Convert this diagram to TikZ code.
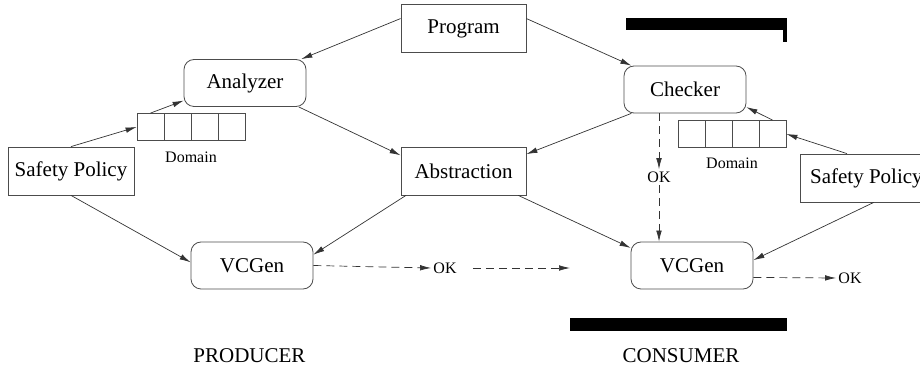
\documentclass[tikz,border=0pt]{standalone}
\usepackage{fontspec}
\setmainfont{Liberation Serif}
\usetikzlibrary{arrows.meta,positioning}

\tikzset{
    box/.style={draw=black!70, line width=0.4pt, minimum width=62.5pt, minimum height=24pt,
        inner sep=0pt, font=\fontsize{10.5}{12}\selectfont},
    rbox/.style={box, rounded corners=5pt, minimum width=61pt, minimum height=23.5pt},
    cell/.style={draw=black!70, line width=0.4pt, minimum size=13.5pt, inner sep=0pt},
    small/.style={inner sep=1pt, font=\fontsize{8}{9}\selectfont},
    label/.style={inner sep=1pt, font=\fontsize{10.5}{12}\selectfont},
    flow/.style={draw=black!80, line width=0.35pt, -{Latex[length=5.5pt,width=2.8pt]}},
    okflow/.style={flow, dash pattern=on 4pt off 2.5pt}
}

\begin{document}
\begin{tikzpicture}[x=0.5pt, y=-0.5pt]
    \useasboundingbox (0,0) rectangle (920,368);

    % Boxes
    \node[box] (program) at (463.5,28.5) {Program};
    \node[rbox] (analyzer) at (245,83) {Analyzer};
    \node[rbox] (checker) at (685,89.5) {Checker};
    \node[box] (abstraction) at (463.5,171) {Abstraction};
    \node[box, minimum width=63pt] (policyP) at (71,171) {Safety Policy};
    \node[box, minimum width=63pt, anchor=west] (policyC) at (800,178) {\hspace{3pt}Safety Policy\hfill};
    \node[rbox] (vcgenP) at (252,265.5) {VCGen};
    \node[rbox] (vcgenC) at (692,265.5) {VCGen};

    % Domain arrays
    \foreach \i in {1,...,4} {
            \node[cell] (dP\i) at ({123.5+27*\i},127) {};
            \node[cell] (dC\i) at ({664.5+27*\i},134) {};
        }
    \node[small] (domP) at (191,157) {Domain};
    \node[small] (domC) at (732,163) {Domain};

    % OK results
    \node[small] (okP) at (445,268) {OK};
    \node[small] (okC) at (659,177) {OK};
    \node[small] (okR) at (850,278) {OK};
    \coordinate (gapC) at (570,268);

    % Producer side
    \draw[flow] (program.171) -- (analyzer.23);
    \draw[flow] (policyP.north) -- (dP1.west);
    \draw[flow] (dP1.north) -- (analyzer.196);
    \draw[flow] (analyzer.336) -- (abstraction.166);
    \draw[flow] (policyP.south) -- (vcgenP.177);
    \draw[flow] (abstraction.203) -- (vcgenP.10);
    \draw[okflow] (vcgenP.east) -- (okP.west);
    \draw[okflow] (okP.east) ++(14,0) -- (gapC);

    % Consumer side
    \draw[flow] (program.9) -- (checker.156);
    \draw[flow] (checker.204) -- (abstraction.15);
    \draw[flow] (policyC.124) -- (dC4.east);
    \draw[flow] (dC4.north) -- (checker.344);
    \draw[flow] (abstraction.336) -- (vcgenC.164);
    \draw[flow] (policyC.293) -- (vcgenC.5);
    \draw[okflow] (checker.south -| okC) -- (okC.north);
    \draw[okflow] (okC.south) -- (okC.south |- vcgenC.north);
    \draw[okflow] (vcgenC.349) -- (okR.west);

    % Bars
    \fill[black] (626,18) rectangle (787,30);
    \fill[black] (783,18) rectangle (787,42);
    \fill[black] (570,318) rectangle (787,331);

    % Captions
    \node[label] (producer) at (249.5,356) {PRODUCER};
    \node[label] (consumer) at (681,356) {CONSUMER};
\end{tikzpicture}
\end{document}
